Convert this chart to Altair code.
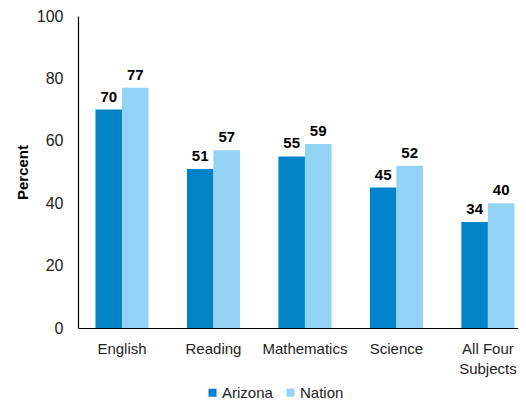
import altair as alt
import pandas as pd

subjects = ["English", "Reading", "Mathematics", "Science", "All Four Subjects"]
arizona = [70, 51, 55, 45, 34]
nation = [77, 57, 59, 52, 40]
groups = ["Arizona", "Nation"]
colors = ["#0083c8", "#92d3f4"]

rows = []
for s, a, n in zip(subjects, arizona, nation):
    rows.append({"Subject": s, "Group": "Arizona", "Percent": a})
    rows.append({"Subject": s, "Group": "Nation", "Percent": n})
df = pd.DataFrame(rows)

FONT = "Liberation Sans"

x = alt.X("Subject:N", sort=subjects, title=None,
          scale=alt.Scale(paddingInner=0.42, paddingOuter=0.115, align=0.83),
          axis=alt.Axis(labelAngle=0, ticks=False, domainColor="black",
                        labelFontSize=15, labelColor="#222", labelPadding=13,
                        labelFont=FONT, labelLineHeight=20,
                        labelExpr="datum.value == 'All Four Subjects' ? ['All Four', 'Subjects'] : datum.value"))
xo = alt.XOffset("Group:N", sort=groups)
y = alt.Y("Percent:Q", title="Percent",
          scale=alt.Scale(domain=[0, 100]),
          axis=alt.Axis(values=[0, 20, 40, 60, 80, 100], grid=False, ticks=False,
                        domainColor="black", labelFontSize=16, labelColor="#222",
                        labelFont=FONT, labelPadding=15,
                        titleFont=FONT, titleFontSize=15,
                        titleFontWeight="bold", titleColor="black", titlePadding=6))

bars = alt.Chart(df).mark_bar().encode(
    x=x, xOffset=xo, y=y,
    color=alt.Color("Group:N", sort=groups,
                    scale=alt.Scale(domain=groups, range=colors),
                    legend=alt.Legend(title=None, orient="none", direction="horizontal",
                                      legendX=127, legendY=369,
                                      symbolType="square", symbolSize=64,
                                      labelFontSize=15, labelFont=FONT,
                                      labelColor="#222", columnPadding=10,
                                      labelOffset=2,
                                      symbolStrokeWidth=0)),
)
text = alt.Chart(df).mark_text(dy=-5, baseline="bottom", fontSize=15, fontWeight="bold",
                               font=FONT, color="black").encode(
    x=alt.X("Subject:N", sort=subjects), xOffset=xo, y="Percent:Q",
    text="Percent:Q")

chart = alt.layer(bars, text).properties(
    width=440, height=312,
    autosize=alt.AutoSizeParams(type="none"),
    padding={"left": 70, "top": 8, "right": 0, "bottom": 72},
).configure_view(stroke=None).configure_axis(domainWidth=1.2)

chart.save("out.html", embed_options={"renderer": "svg", "actions": False})
